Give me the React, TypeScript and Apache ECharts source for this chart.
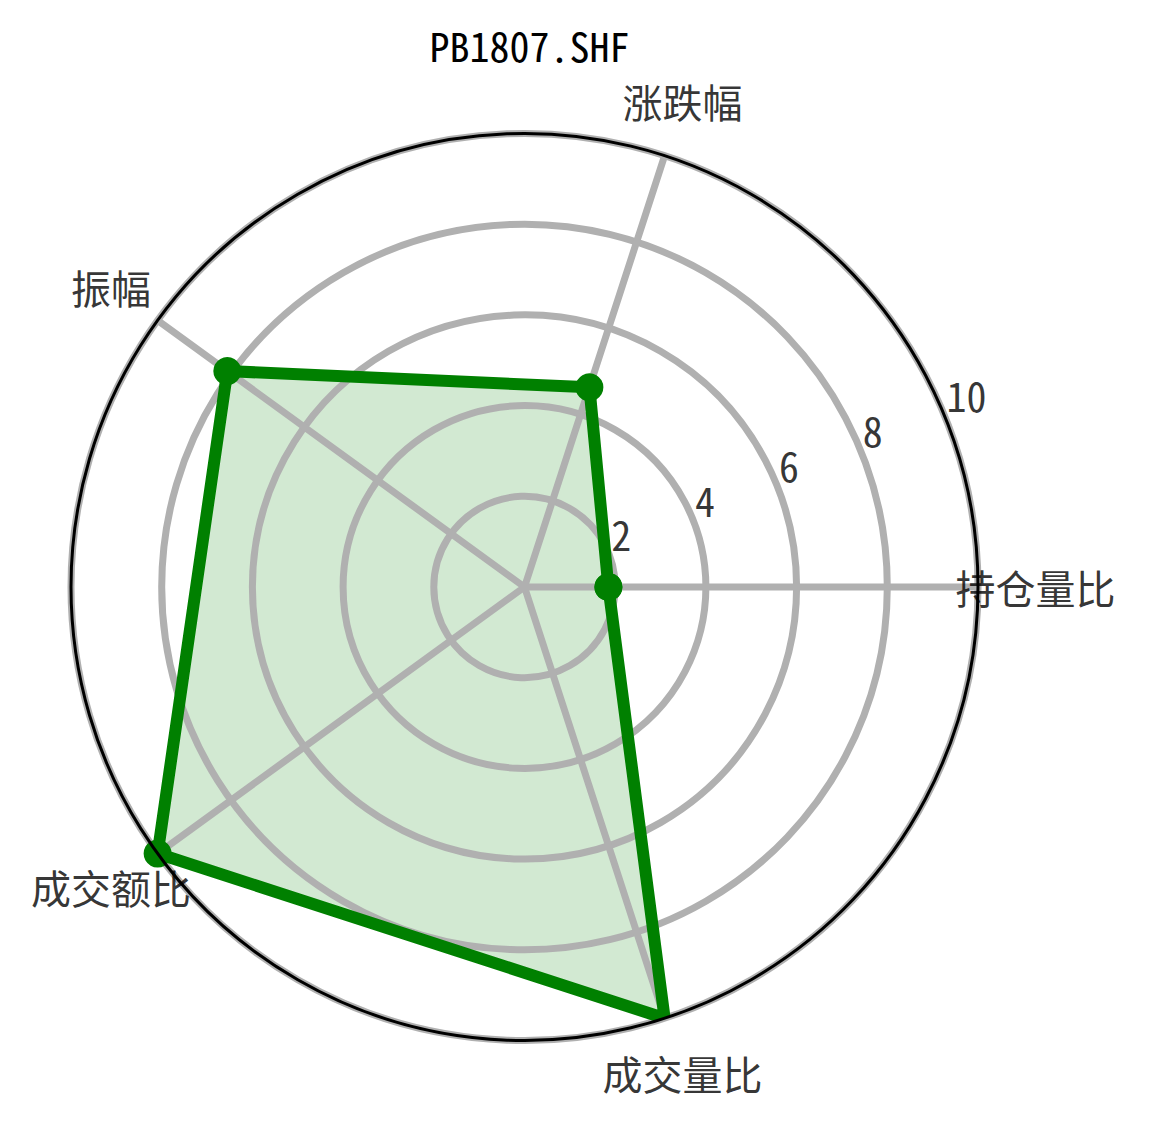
import React, { useEffect, useRef } from "react";
import * as echarts from "echarts";

const chartTitle = "PB1807.SHF";
const categories = ["持仓量比", "涨跌幅", "振幅", "成交额比", "成交量比"];
const categoryAngles = [0, 72, 144, 216, 288];
const values = [1.85, 4.63, 8.1, 10, 10];
const radialTicks = [2, 4, 6, 8, 10];

const FONT = "'Noto Sans Mono CJK SC', 'Noto Sans CJK SC', sans-serif";
const LABEL_RADIUS = 11.27;
const RLABEL_ANGLE = 22.5;

export default function App() {
  const ref = useRef<HTMLDivElement>(null);
  useEffect(() => {
    const chart = echarts.init(ref.current!, null, { renderer: "svg" });
    const lineData = values.map((v, i) => [v, categoryAngles[i]]);
    lineData.push([values[0], 360]);
    const center = [524.5, 587];
    const radius = 453.5;
    chart.setOption({
      animation: false,
      title: {
        text: chartTitle,
        left: 524.5,
        textAlign: "center",
        top: 20,
        textStyle: { fontFamily: FONT, fontSize: 40, fontWeight: "normal", color: "#000" },
      },
      polar: [
        { center, radius },
        { center, radius },
      ],
      angleAxis: [
        {
          polarIndex: 0,
          type: "value",
          min: 0,
          max: 360,
          interval: 72,
          startAngle: 0,
          clockwise: false,
          axisLine: { show: false },
          axisTick: { show: false },
          axisLabel: { show: false },
          splitLine: { show: true, lineStyle: { color: "#b0b0b0", width: 7 } },
          z: 4,
        },
        {
          polarIndex: 1,
          type: "value",
          min: 0,
          max: 360,
          startAngle: 0,
          clockwise: false,
          axisLine: { show: true, lineStyle: { color: "#000", width: 3 } },
          axisTick: { show: false },
          axisLabel: { show: false },
          splitLine: { show: false },
          z: 20,
        },
      ],
      radiusAxis: [
        {
          polarIndex: 0,
          type: "value",
          min: 0,
          max: 10,
          interval: 2,
          axisLine: { show: false },
          axisTick: { show: false },
          axisLabel: { show: false },
          splitLine: { show: true, lineStyle: { color: "#b0b0b0", width: 7 } },
          z: 3,
        },
        {
          polarIndex: 1,
          type: "value",
          min: 0,
          max: 10,
          axisLine: { show: false },
          axisTick: { show: false },
          axisLabel: { show: false },
          splitLine: { show: false },
        },
      ],
      series: [
        {
          type: "line",
          coordinateSystem: "polar",
          polarIndex: 0,
          data: lineData,
          clip: true,
          z: 1,
          symbol: "none",
          lineStyle: { width: 0, opacity: 0 },
          areaStyle: { color: "rgba(0,128,0,0.25)" },
        },
        {
          type: "line",
          coordinateSystem: "polar",
          polarIndex: 0,
          data: lineData,
          clip: true,
          z: 10,
          symbol: "circle",
          symbolSize: 28,
          itemStyle: { color: "#008000" },
          lineStyle: { color: "#008000", width: 12 },
        },
        {
          type: "scatter",
          coordinateSystem: "polar",
          polarIndex: 0,
          clip: false,
          z: 30,
          symbolSize: 0,
          data: categories.map((c, i) => ({ value: [LABEL_RADIUS, categoryAngles[i]], name: c })),
          label: {
            show: true,
            position: "inside",
            formatter: (p: any) => p.name,
            fontFamily: FONT,
            fontSize: 40,
            color: "#000",
            align: "center",
            verticalAlign: "middle",
          },
        },
        {
          type: "scatter",
          coordinateSystem: "polar",
          polarIndex: 0,
          clip: false,
          z: 30,
          symbolSize: 0,
          data: radialTicks.map((t) => ({ value: [t, RLABEL_ANGLE], name: String(t) })),
          label: {
            show: true,
            position: [0, 0],
            offset: [3, 2],
            formatter: (p: any) => p.name,
            fontFamily: FONT,
            fontSize: 40,
            color: "#000",
            align: "left",
            verticalAlign: "bottom",
          },
        },
      ],
    });
    return () => chart.dispose();
  }, []);
  return (
    <div
      ref={ref}
      style={{ position: "fixed", left: 0, top: 0, width: 1151, height: 1123, background: "#fff" }}
    />
  );
}
